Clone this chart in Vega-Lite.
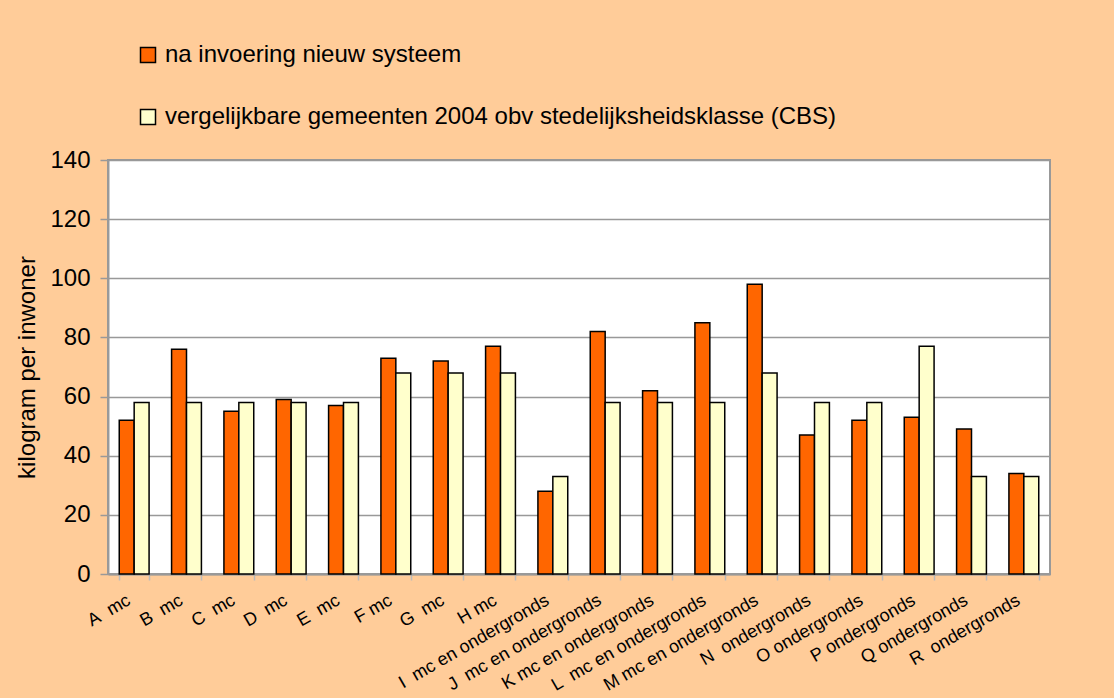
{
  "$schema": "https://vega.github.io/schema/vega-lite/v6.json",
  "width": 942,
  "height": 414,
  "autosize": {"type": "none"},
  "padding": {"left": 108, "top": 160, "right": 64, "bottom": 124},
  "background": "#FFCC99",
  "config": {
    "font": "Liberation Sans",
    "view": {"fill": "white", "stroke": "#999999", "strokeWidth": 2}
  },
  "data": {
    "values": [
      {"gemeente": "A\u00a0 mc", "serie": "na invoering nieuw systeem", "waarde": 52},
      {"gemeente": "A\u00a0 mc", "serie": "vergelijkbare gemeenten 2004 obv stedelijksheidsklasse (CBS)", "waarde": 58},
      {"gemeente": "B\u00a0 mc", "serie": "na invoering nieuw systeem", "waarde": 76},
      {"gemeente": "B\u00a0 mc", "serie": "vergelijkbare gemeenten 2004 obv stedelijksheidsklasse (CBS)", "waarde": 58},
      {"gemeente": "C\u00a0 mc", "serie": "na invoering nieuw systeem", "waarde": 55},
      {"gemeente": "C\u00a0 mc", "serie": "vergelijkbare gemeenten 2004 obv stedelijksheidsklasse (CBS)", "waarde": 58},
      {"gemeente": "D\u00a0 mc", "serie": "na invoering nieuw systeem", "waarde": 59},
      {"gemeente": "D\u00a0 mc", "serie": "vergelijkbare gemeenten 2004 obv stedelijksheidsklasse (CBS)", "waarde": 58},
      {"gemeente": "E\u00a0 mc", "serie": "na invoering nieuw systeem", "waarde": 57},
      {"gemeente": "E\u00a0 mc", "serie": "vergelijkbare gemeenten 2004 obv stedelijksheidsklasse (CBS)", "waarde": 58},
      {"gemeente": "F mc", "serie": "na invoering nieuw systeem", "waarde": 73},
      {"gemeente": "F mc", "serie": "vergelijkbare gemeenten 2004 obv stedelijksheidsklasse (CBS)", "waarde": 68},
      {"gemeente": "G\u00a0 mc", "serie": "na invoering nieuw systeem", "waarde": 72},
      {"gemeente": "G\u00a0 mc", "serie": "vergelijkbare gemeenten 2004 obv stedelijksheidsklasse (CBS)", "waarde": 68},
      {"gemeente": "H mc", "serie": "na invoering nieuw systeem", "waarde": 77},
      {"gemeente": "H mc", "serie": "vergelijkbare gemeenten 2004 obv stedelijksheidsklasse (CBS)", "waarde": 68},
      {"gemeente": "I\u00a0 mc en ondergronds", "serie": "na invoering nieuw systeem", "waarde": 28},
      {"gemeente": "I\u00a0 mc en ondergronds", "serie": "vergelijkbare gemeenten 2004 obv stedelijksheidsklasse (CBS)", "waarde": 33},
      {"gemeente": "J\u00a0 mc en ondergronds", "serie": "na invoering nieuw systeem", "waarde": 82},
      {"gemeente": "J\u00a0 mc en ondergronds", "serie": "vergelijkbare gemeenten 2004 obv stedelijksheidsklasse (CBS)", "waarde": 58},
      {"gemeente": "K mc en ondergronds", "serie": "na invoering nieuw systeem", "waarde": 62},
      {"gemeente": "K mc en ondergronds", "serie": "vergelijkbare gemeenten 2004 obv stedelijksheidsklasse (CBS)", "waarde": 58},
      {"gemeente": "L\u00a0 mc en ondergronds", "serie": "na invoering nieuw systeem", "waarde": 85},
      {"gemeente": "L\u00a0 mc en ondergronds", "serie": "vergelijkbare gemeenten 2004 obv stedelijksheidsklasse (CBS)", "waarde": 58},
      {"gemeente": "M mc en ondergronds", "serie": "na invoering nieuw systeem", "waarde": 98},
      {"gemeente": "M mc en ondergronds", "serie": "vergelijkbare gemeenten 2004 obv stedelijksheidsklasse (CBS)", "waarde": 68},
      {"gemeente": "N\u00a0 ondergronds", "serie": "na invoering nieuw systeem", "waarde": 47},
      {"gemeente": "N\u00a0 ondergronds", "serie": "vergelijkbare gemeenten 2004 obv stedelijksheidsklasse (CBS)", "waarde": 58},
      {"gemeente": "O ondergronds", "serie": "na invoering nieuw systeem", "waarde": 52},
      {"gemeente": "O ondergronds", "serie": "vergelijkbare gemeenten 2004 obv stedelijksheidsklasse (CBS)", "waarde": 58},
      {"gemeente": "P ondergronds", "serie": "na invoering nieuw systeem", "waarde": 53},
      {"gemeente": "P ondergronds", "serie": "vergelijkbare gemeenten 2004 obv stedelijksheidsklasse (CBS)", "waarde": 77},
      {"gemeente": "Q ondergronds", "serie": "na invoering nieuw systeem", "waarde": 49},
      {"gemeente": "Q ondergronds", "serie": "vergelijkbare gemeenten 2004 obv stedelijksheidsklasse (CBS)", "waarde": 33},
      {"gemeente": "R\u00a0 ondergronds", "serie": "na invoering nieuw systeem", "waarde": 34},
      {"gemeente": "R\u00a0 ondergronds", "serie": "vergelijkbare gemeenten 2004 obv stedelijksheidsklasse (CBS)", "waarde": 33}
    ]
  },
  "mark": {"type": "bar", "stroke": "black", "strokeWidth": 1.5},
  "encoding": {
    "x": {
      "field": "gemeente",
      "type": "nominal",
      "sort": null,
      "scale": {"paddingInner": 0.43, "paddingOuter": 0.215},
      "axis": {
        "title": null,
        "labelAngle": -30,
        "labelAlign": "right",
        "labelBaseline": "top",
        "labelFontSize": 18,
        "labelColor": "black",
        "labelPadding": 11,
        "labelOffset": -10,
        "labelLimit": 0,
        "labelOverlap": false,
        "tickBand": "extent",
        "tickColor": "#BBBBBB",
        "tickSize": 6,
        "tickWidth": 1.5,
        "domainColor": "#999999",
        "domainWidth": 2
      }
    },
    "xOffset": {
      "field": "serie",
      "type": "nominal",
      "sort": ["na invoering nieuw systeem", "vergelijkbare gemeenten 2004 obv stedelijksheidsklasse (CBS)"]
    },
    "y": {
      "field": "waarde",
      "type": "quantitative",
      "scale": {"domain": [0, 140]},
      "axis": {
        "values": [0, 20, 40, 60, 80, 100, 120, 140],
        "title": "kilogram per inwoner",
        "titleFontSize": 24,
        "titleFontWeight": "normal",
        "titleColor": "black",
        "titlePadding": 10,
        "labelFontSize": 24,
        "labelColor": "black",
        "labelPadding": 10,
        "tickColor": "#999999",
        "tickSize": 8,
        "tickWidth": 1.5,
        "domainColor": "#999999",
        "domainWidth": 2,
        "gridColor": "#999999",
        "gridWidth": 1.5
      }
    },
    "color": {
      "field": "serie",
      "type": "nominal",
      "scale": {
        "domain": ["na invoering nieuw systeem", "vergelijkbare gemeenten 2004 obv stedelijksheidsklasse (CBS)"],
        "range": ["#FF6600", "#FFFFCC"]
      },
      "legend": {
        "title": null,
        "orient": "none",
        "legendX": 28,
        "legendY": -117,
        "direction": "vertical",
        "symbolType": "square",
        "symbolSize": 225,
        "symbolStrokeColor": "black",
        "symbolStrokeWidth": 1.5,
        "labelFontSize": 24,
        "labelColor": "black",
        "labelOffset": 5,
        "labelLimit": 0,
        "rowPadding": 38,
        "padding": 0
      }
    }
  }
}
